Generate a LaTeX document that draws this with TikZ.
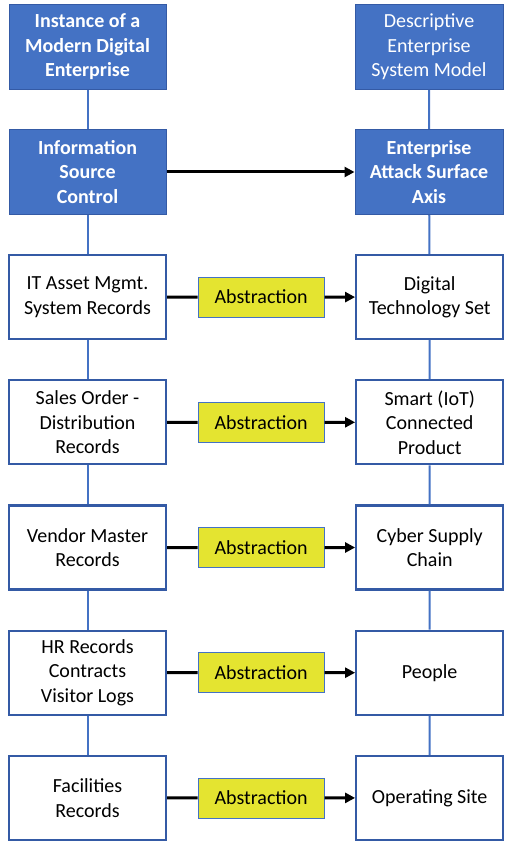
\documentclass[tikz,border=0pt]{standalone}
\usepackage{fontspec}
\setmainfont{Carlito}
\usetikzlibrary{arrows.meta, positioning, calc}
\definecolor{entblue}{RGB}{68,114,196}
\definecolor{edgeblue}{RGB}{52,90,165}
\definecolor{absyellow}{RGB}{228,228,48}

\begin{document}
\begin{tikzpicture}[
  x=1pt, y=1pt,
  node distance=39pt and 188pt,
  box/.style={rectangle, minimum width=157pt, minimum height=84pt, align=center, inner sep=2pt, font=\fontsize{20}{24.5}\selectfont, fill=white, draw=edgeblue, line width=2.2pt},
  rbox/.style={box, minimum width=147pt},
  hdrbox/.style={box, fill=entblue, draw=edgeblue, line width=1pt, minimum height=85pt, text=white},
  absbox/.style={rectangle, minimum width=126pt, minimum height=40pt, font=\fontsize{20}{24.5}\selectfont, fill=absyellow, draw=entblue, line width=0.8pt},
  link/.style={draw=entblue, line width=2pt},
  arrow/.style={-{Triangle[length=10pt, width=10pt]}, line width=3pt, black}
]
  \useasboundingbox (0,0) rectangle (506,-845);

  % Left column
  \node[hdrbox, font=\fontsize{20}{24.5}\selectfont\bfseries] (inst) at (87.5,-47) {Instance of a\\Modern Digital\\Enterprise};
  \node[hdrbox, font=\fontsize{20}{24.5}\selectfont\bfseries, below=of inst] (isc) {Information\\Source\\Control};
  \node[box, below=of isc] (itasset) {IT Asset Mgmt.\\System Records};
  \node[box, below=of itasset] (sales) {Sales Order -\\Distribution\\Records};
  \node[box, below=of sales] (vendor) {Vendor Master\\Records};
  \node[box, below=of vendor] (hr) {HR Records\\Contracts\\Visitor Logs};
  \node[box, below=of hr] (facil) {Facilities\\Records};

  % Right column
  \node[hdrbox, minimum width=148pt, right=of inst] (model) {Descriptive\\Enterprise\\System Model};
  \node[hdrbox, minimum width=148pt, font=\fontsize{20}{24.5}\selectfont\bfseries, right=of isc] (axis) {Enterprise\\Attack Surface\\Axis};
  \node[rbox, right=of itasset] (digital) {Digital\\Technology Set};
  \node[rbox, right=of sales] (iot) {Smart (IoT)\\Connected\\Product};
  \node[rbox, right=of vendor] (supply) {Cyber Supply\\Chain};
  \node[rbox, right=of hr] (people) {People};
  \node[rbox, right=of facil] (site) {Operating Site};

  % Abstraction boxes
  \node[absbox] (abs1) at ($(itasset.east)!0.5!(digital.west)$) {Abstraction};
  \node[absbox] (abs2) at ($(sales.east)!0.5!(iot.west)$) {Abstraction};
  \node[absbox] (abs3) at ($(vendor.east)!0.5!(supply.west)$) {Abstraction};
  \node[absbox] (abs4) at ($(hr.east)!0.5!(people.west)$) {Abstraction};
  \node[absbox] (abs5) at ($(facil.east)!0.5!(site.west)$) {Abstraction};

  % Vertical links
  \draw[link] (inst) -- (isc) -- (itasset) -- (sales) -- (vendor) -- (hr) -- (facil);
  \draw[link] (model) -- (axis) -- (digital) -- (iot) -- (supply) -- (people) -- (site);

  % Arrows
  \draw[arrow] (isc) -- (axis);
  \draw[line width=3pt] (itasset) -- (abs1);
  \draw[arrow] (abs1) -- (digital);
  \draw[line width=3pt] (sales) -- (abs2);
  \draw[arrow] (abs2) -- (iot);
  \draw[line width=3pt] (vendor) -- (abs3);
  \draw[arrow] (abs3) -- (supply);
  \draw[line width=3pt] (hr) -- (abs4);
  \draw[arrow] (abs4) -- (people);
  \draw[line width=3pt] (facil) -- (abs5);
  \draw[arrow] (abs5) -- (site);
\end{tikzpicture}
\end{document}
